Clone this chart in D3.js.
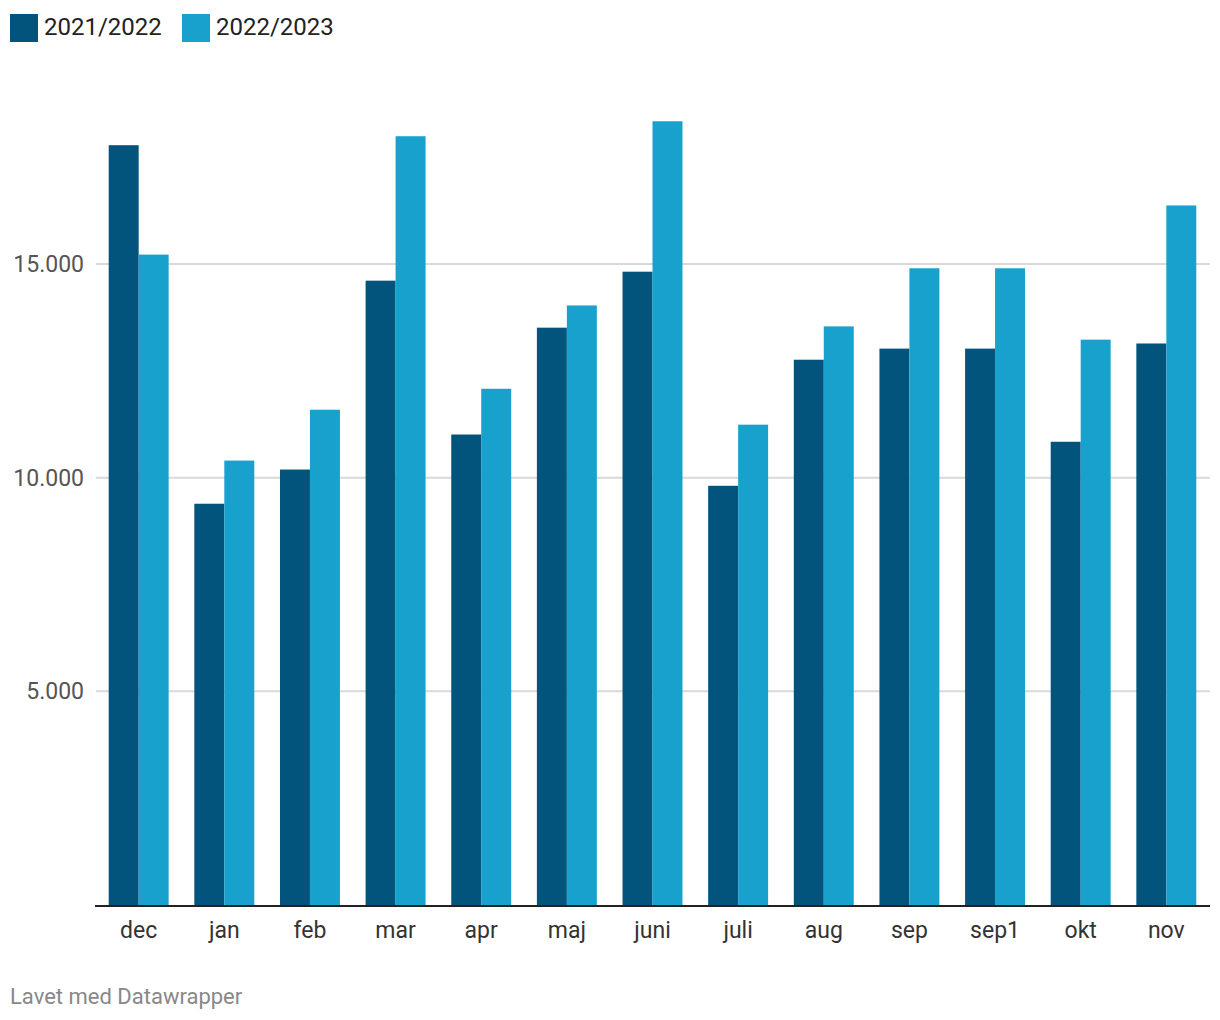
<!DOCTYPE html>
<html><head><meta charset="utf-8">
<script src="https://cdn.jsdelivr.net/npm/d3@7"></script>
<style>body{margin:0;background:#fff;font-family:Roboto,sans-serif;}</style>
</head><body><svg id="c" width="1220" height="1020"></svg>
<script>
const categories = ["dec","jan","feb","mar","apr","maj","juni","juli","aug","sep","sep1","okt","nov"];
const seriesNames = ["2021/2022","2022/2023"];
const values2122 = [17780,9390,10190,14610,11010,13510,14820,9810,12760,13020,13020,10840,13140];
const values2223 = [15220,10400,11590,17990,12080,14030,18340,11240,13540,14900,14900,13230,16370];
const yTicks = [5000,10000,15000];
const yTickLabels = ["5.000","10.000","15.000"];
const colors = ["#02547d","#19a1cd"];

const svg = d3.select("#c");
const x = d3.scaleBand().domain(categories).range([95,1210]).paddingInner(0.3).paddingOuter(0.16);
const xs = d3.scaleBand().domain(seriesNames).range([0, x.bandwidth()]);
const y = d3.scaleLinear().domain([0,15000]).range([905,264]);

// grid
const g = svg.append("g");
g.selectAll("line.grid").data(yTicks).join("line")
  .attr("x1",96).attr("x2",1210).attr("y1",d=>y(d)).attr("y2",d=>y(d))
  .attr("stroke","#d9d9d9").attr("stroke-width",2);
g.selectAll("text.yl").data(yTicks).join("text")
  .attr("x",84).attr("y",d=>y(d)).attr("dy","0.35em").attr("text-anchor","end")
  .attr("fill","#555").attr("font-size",23).text((d,i)=>yTickLabels[i]);

const series = [values2122, values2223];
series.forEach((vals,si)=>{
  svg.append("g").selectAll("rect").data(categories).join("rect")
    .attr("x",d=>x(d)+xs(seriesNames[si]))
    .attr("width",xs.bandwidth())
    .attr("y",(d,i)=>y(vals[i]))
    .attr("height",(d,i)=>y(0)-y(vals[i]))
    .attr("fill",colors[si]);
});

svg.append("line").attr("x1",95).attr("x2",1210).attr("y1",906).attr("y2",906)
  .attr("stroke","#222").attr("stroke-width",2);

svg.append("g").selectAll("text").data(categories).join("text")
  .attr("x",d=>x(d)+x.bandwidth()/2).attr("y",938).attr("text-anchor","middle")
  .attr("fill","#333").attr("font-size",23).text(d=>d);

// legend
const legX = [10,182];
seriesNames.forEach((n,i)=>{
  svg.append("rect").attr("x",legX[i]).attr("y",14).attr("width",28).attr("height",28).attr("fill",colors[i]);
  svg.append("text").attr("x",legX[i]+34).attr("y",27).attr("dy","0.35em").attr("font-size",24).attr("fill","#222").text(n);
});

svg.append("text").attr("x",10).attr("y",1004).attr("font-size",22).attr("fill","#888").text("Lavet med Datawrapper");
</script></body></html>
